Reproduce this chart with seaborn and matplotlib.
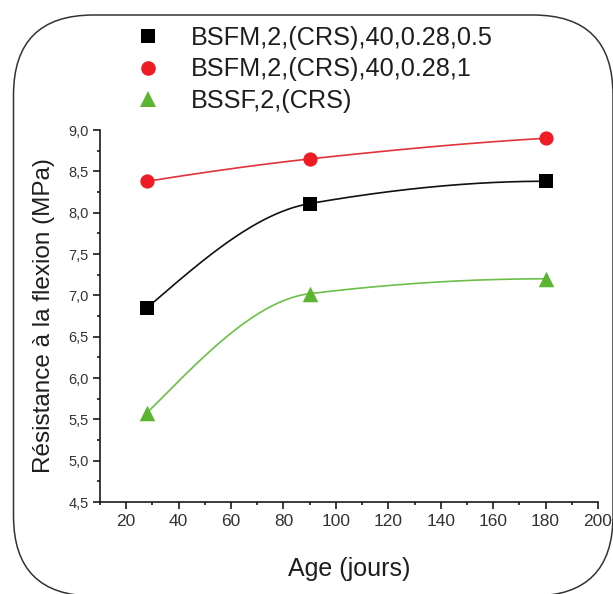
import numpy as np
import pandas as pd
import matplotlib
matplotlib.use("Agg")
import matplotlib.pyplot as plt
import seaborn as sns
from matplotlib.patches import FancyBboxPatch
from matplotlib.transforms import IdentityTransform
from matplotlib.lines import Line2D
from matplotlib.ticker import FixedLocator, MultipleLocator, FuncFormatter

# ---------------- data ----------------
ages = [28, 90, 180]
series_names = ["BSFM,2,(CRS),40,0.28,0.5", "BSFM,2,(CRS),40,0.28,1", "BSSF,2,(CRS)"]
bsfm_05 = [6.85, 8.11, 8.38]
bsfm_1 = [8.38, 8.65, 8.90]
bssf = [5.58, 7.02, 7.20]
x_ticks = [20, 40, 60, 80, 100, 120, 140, 160, 180, 200]
y_ticks = [4.5, 5.0, 5.5, 6.0, 6.5, 7.0, 7.5, 8.0, 8.5, 9.0]
x_label = "Age (jours)"
y_label = "Résistance à la flexion (MPa)"

# ---------------- style ----------------
sns.set_style("ticks")
plt.rcParams["font.family"] = ["Liberation Sans", "DejaVu Sans"]

marker_colors = ["#000000", "#ee1c24", "#5cb531"]
line_colors = ["#111111", "#e2323c", "#6cbf48"]
markers = ["s", "o", "^"]
sizes = [88, 105, 125]
values = [bsfm_05, bsfm_1, bssf]


def pchip_curve(x, y, n=200):
    """Monotone cubic (PCHIP) display curve through the data points."""
    x = np.asarray(x, float)
    y = np.asarray(y, float)
    h = np.diff(x)
    d = np.diff(y) / h
    m = np.zeros(len(x))
    for k in range(1, len(x) - 1):
        if d[k - 1] * d[k] > 0:
            w1 = 2 * h[k] + h[k - 1]
            w2 = h[k] + 2 * h[k - 1]
            m[k] = (w1 + w2) / (w1 / d[k - 1] + w2 / d[k])

    def end(h0, h1, d0, d1):
        s = ((2 * h0 + h1) * d0 - h0 * d1) / (h0 + h1)
        if np.sign(s) != np.sign(d0):
            s = 0.0
        elif np.sign(d0) != np.sign(d1) and abs(s) > 3 * abs(d0):
            s = 3 * d0
        return s

    m[0] = end(h[0], h[1], d[0], d[1])
    m[-1] = end(h[-1], h[-2], d[-1], d[-2])
    xs = np.linspace(x[0], x[-1], n)
    idx = np.clip(np.searchsorted(x, xs) - 1, 0, len(x) - 2)
    t = (xs - x[idx]) / h[idx]
    h00 = 2 * t**3 - 3 * t**2 + 1
    h10 = t**3 - 2 * t**2 + t
    h01 = -2 * t**3 + 3 * t**2
    h11 = t**3 - t**2
    ys = h00 * y[idx] + h10 * h[idx] * m[idx] + h01 * y[idx + 1] + h11 * h[idx] * m[idx + 1]
    return xs, ys


W, H = 613, 594
fig = plt.figure(figsize=(W / 100, H / 100), dpi=100)
ax = fig.add_axes([100 / W, 1 - 502 / H, 498 / W, 372 / H])

for name, vals, lc, mc, mk, sz in zip(series_names, values, line_colors, marker_colors, markers, sizes):
    xs, ys = pchip_curve(ages, vals)
    curve = pd.DataFrame({"age": xs, "val": ys})
    sns.lineplot(data=curve, x="age", y="val", ax=ax, color=lc, lw=1.2,
                 sort=False, estimator=None, legend=False, zorder=2)
    pts = pd.DataFrame({"age": ages, "val": vals})
    sns.scatterplot(data=pts, x="age", y="val", ax=ax, color=mc, marker=mk, s=sz,
                    edgecolor=mc, linewidth=0, legend=False, zorder=3, clip_on=False)

ax.set_xlim(10, 200)
ax.set_ylim(4.5, 9.0)
ax.xaxis.set_major_locator(FixedLocator(x_ticks))
ax.xaxis.set_minor_locator(MultipleLocator(10))
ax.yaxis.set_major_locator(FixedLocator(y_ticks))
ax.yaxis.set_minor_locator(MultipleLocator(0.25))
ax.yaxis.set_major_formatter(FuncFormatter(lambda v, p: f"{v:.1f}".replace(".", ",")))
ax.xaxis.set_major_formatter(FuncFormatter(lambda v, p: f"{int(round(v))}"))

sns.despine(ax=ax)
for sp in ["left", "bottom"]:
    ax.spines[sp].set_linewidth(1.2)
    ax.spines[sp].set_color("#1a1a1a")

ax.tick_params(axis="both", which="major", direction="out", length=5, width=1.2,
               color="#1a1a1a", labelcolor="#333333")
ax.tick_params(axis="both", which="minor", direction="out", length=2.5, width=1.2,
               color="#1a1a1a")
ax.tick_params(axis="x", which="major", labelsize=12.5, pad=4)
ax.tick_params(axis="y", which="major", labelsize=10.5, pad=3)

ax.set_xlabel(x_label, fontsize=18, color="#1e1e1e", labelpad=20)
ax.set_ylabel(y_label, fontsize=17.5, color="#1e1e1e", labelpad=10)

handles = [Line2D([], [], linestyle="none", marker=mk, color=mc, markersize=ms, markeredgewidth=0)
           for mk, mc, ms in zip(markers, marker_colors, [9.5, 10.5, 11])]
fig.legend(handles, series_names, loc="upper left", bbox_to_anchor=(135.0 / W, 0.956),
           frameon=False, fontsize=18.2, handlelength=1.0, handletextpad=1.2,
           labelspacing=0.29, borderpad=0, borderaxespad=0, labelcolor="#1e1e1e")

border = FancyBboxPatch((13.5, -2), 599.5, 581, boxstyle="round,pad=0,rounding_size=80",
                        transform=IdentityTransform(), fill=False, edgecolor="#333333",
                        linewidth=1.1, clip_on=False)
fig.patches.append(border)

fig.savefig("out.png", dpi=100)
